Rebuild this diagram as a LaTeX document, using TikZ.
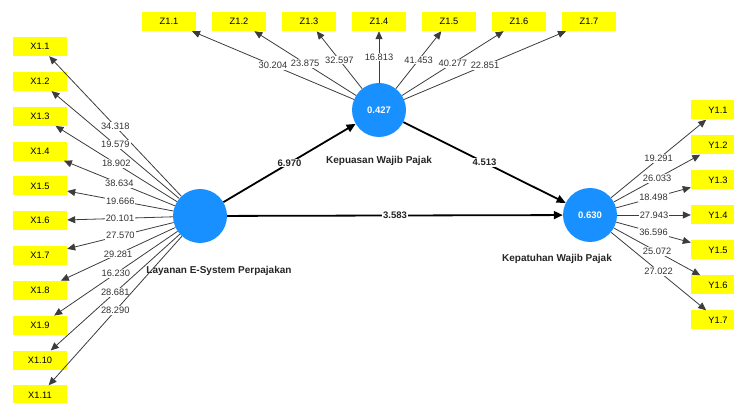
\documentclass[tikz,border=0pt]{standalone}
\usepackage{fontspec}
\setmainfont{Liberation Sans}
\usetikzlibrary{arrows.meta}
\definecolor{lvblue}{RGB}{24,144,255}
\definecolor{boxyellow}{RGB}{255,255,0}
\definecolor{lnk}{RGB}{60,60,60}
\tikzset{
  ind/.style={fill=boxyellow, minimum width=54pt, minimum height=19pt, inner sep=0pt, font=\fontsize{9.3}{10}\selectfont},
  lv/.style={circle, fill=lvblue, minimum size=54pt, inner sep=0pt, text=white, font=\fontsize{9.5}{10}\selectfont\bfseries},
  lvname/.style={font=\fontsize{10}{11}\selectfont\bfseries, text=black!85, inner sep=1pt},
  ia/.style={draw=lnk, line width=0.8pt, -{Triangle[length=8pt,width=7pt]}},
  pa/.style={draw=black, line width=1.8pt, -{Triangle[length=9pt,width=8pt]}},
  lab/.style={fill=white, inner sep=1pt, font=\fontsize{9.3}{10}\selectfont, text=black!80},
  plab/.style={fill=white, inner sep=1pt, font=\fontsize{9.5}{10}\selectfont\bfseries, text=black!85}
}
\begin{document}
\begin{tikzpicture}[x=1pt,y=-1pt]
\useasboundingbox (0,0) rectangle (734,403);
\clip (0,0) rectangle (734,403);
% latent variables
\node[lv] (L) at (200,216) {};
\node[lv] (Z) at (379,110) {0.427};
\node[lv] (Y) at (590,215) {0.630};
\node[lvname] (Lname) at (219,271) {Layanan E-System Perpajakan};
\node[lvname] (Zname) at (379,161) {Kepuasan Wajib Pajak};
\node[lvname] (Yname) at (557,259) {Kepatuhan Wajib Pajak};
% X indicators
\foreach \i in {1,...,11}{
  \node[ind] (X\i) at (40,{46.5+34.85*(\i-1)}) {X1.\i};
}
% Z indicators
\foreach \i in {1,...,7}{
  \node[ind] (Z\i) at ({169+70*(\i-1)},21.5) {Z1.\i};
}
% Y indicators
\foreach \i in {1,...,7}{
  \node[ind] (Y\i) at (718,{110+35*(\i-1)}) {Y1.\i};
}
% X loadings
\foreach \i/\v in {1/34.318,2/19.579,3/18.902,4/38.634,5/19.666,6/20.101,7/27.570,8/29.281,9/16.230,10/28.681,11/28.290}{
  \draw[ia] (L) -- node[lab] {\v} (X\i);
}
% Z loadings
\foreach \i/\v in {1/30.204,2/23.875,3/32.597,4/16.813,5/41.453,6/40.277,7/22.851}{
  \draw[ia] (Z) -- node[lab] {\v} (Z\i);
}
% Y loadings
\foreach \i/\v in {1/19.291,2/26.033,3/18.498,4/27.943,5/36.596,6/25.072,7/27.022}{
  \draw[ia] (Y) -- node[lab] {\v} (Y\i);
}
% structural paths
\draw[pa] (L) -- node[plab] {6.970} (Z);
\draw[pa] (Z) -- node[plab] {4.513} (Y);
\draw[pa] (L) -- node[plab] {3.583} (Y);
\end{tikzpicture}
\end{document}
